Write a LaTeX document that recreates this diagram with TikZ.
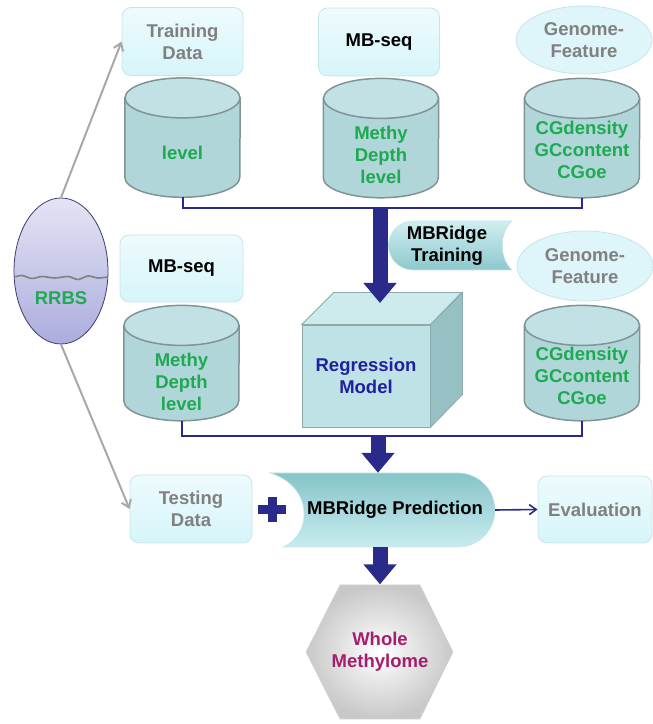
\documentclass[tikz,border=0pt]{standalone}
\usepackage{fontspec}
\setmainfont{Liberation Sans}
\usetikzlibrary{arrows.meta,positioning,shapes.geometric,calc}

\definecolor{boxtop}{RGB}{238,251,253}
\definecolor{boxbot}{RGB}{214,245,249}
\definecolor{boxline}{RGB}{196,230,235}
\definecolor{ellfill}{RGB}{222,245,249}
\definecolor{labelgray}{RGB}{128,128,128}
\definecolor{cylbody}{RGB}{176,214,218}
\definecolor{cylend}{RGB}{194,225,228}
\definecolor{cylline}{RGB}{128,148,150}
\definecolor{dbgreen}{RGB}{30,170,80}
\definecolor{navy}{RGB}{42,42,138}
\definecolor{feedgray}{RGB}{168,168,168}
\definecolor{cubefront}{RGB}{190,226,230}
\definecolor{cubetop}{RGB}{205,234,236}
\definecolor{cubeside}{RGB}{150,192,196}
\definecolor{cubeline}{RGB}{140,170,172}
\definecolor{modelblue}{RGB}{32,32,160}
\definecolor{tealtop}{RGB}{208,238,240}
\definecolor{tealbot}{RGB}{140,200,205}
\definecolor{predtop}{RGB}{135,196,200}
\definecolor{predbot}{RGB}{200,236,240}
\definecolor{rrbstop}{RGB}{228,228,245}
\definecolor{rrbsbot}{RGB}{172,172,222}
\definecolor{rrbsline}{RGB}{60,60,110}
\definecolor{hexgray}{RGB}{200,200,200}
\definecolor{wholepink}{RGB}{165,30,110}

% cylinder drawn round an empty node
\newcommand{\dbdraw}[1]{%
  \filldraw[draw=cylline,line width=1.5pt,fill=cylbody]
    ([yshift=-20pt]#1.north west) -- ([yshift=20pt]#1.south west)
    arc[start angle=180,end angle=360,x radius=57.5pt,y radius=20pt]
    -- ([yshift=-20pt]#1.north east) -- cycle;
  \filldraw[draw=cylline,line width=1.5pt,fill=cylend]
    ([yshift=-20pt]#1.north) ellipse[x radius=57.5pt,y radius=20pt];
}

\begin{document}
\begin{tikzpicture}[
  x=1pt, y=1pt,
  font=\fontsize{18.5}{22}\selectfont\bfseries,
  infobox/.style={draw=boxline,line width=0.8pt,rounded corners=9pt,
                  top color=boxtop,bottom color=boxbot,align=center,
                  minimum width=121pt,minimum height=68pt,text=labelgray},
  feature/.style={ellipse,draw=boxline,line width=0.8pt,fill=ellfill,
                  align=center,inner sep=0pt,
                  minimum width=136pt,minimum height=68pt,text=labelgray},
  db/.style={minimum width=115pt,minimum height=119pt,inner sep=0pt},
  dbtext/.style={text=dbgreen,align=center},
  bus/.style={draw=navy,line width=2pt},
  bigarrow/.style={draw=navy,line width=15pt,
                   -{Triangle[width=32pt,length=20pt]}},
  feed/.style={draw=feedgray,line width=2pt,
               -{Straight Barb[length=7pt,width=10pt]}}
]
\useasboundingbox (0,0) rectangle (653,724);

% training inputs
\node[infobox] (traindata) at (182.5,682.5) {Training\\Data};
\node[infobox,text=black] (mbseqA) at (379,682) {MB-seq};
\node[feature] (genomeA) at (584,684) {Genome-\\Feature};
\node[db,below=2pt of traindata] (cylA) {};
\node[db,below=2pt of mbseqA,xshift=2pt] (cylB) {};
\node[db,below=4pt of genomeA,xshift=-2pt] (cylC) {};
\dbdraw{cylA}
\dbdraw{cylB}
\dbdraw{cylC}
\node[dbtext] (levelA) at ([yshift=-15pt]cylA.center) {level};
\node[dbtext] (levelB) at ([yshift=-17pt]cylB.center) {Methy\\Depth\\level};
\node[dbtext] (levelC) at ([yshift=-12pt]cylC.center) {CGdensity\\GCcontent\\CGoe};

\coordinate (busA) at (380,516);
\draw[bus] (cylA.south) |- (busA) -| (cylC.south);

% testing inputs
\node[infobox,text=black,minimum width=123pt,minimum height=67pt] (mbseqB) at (181.5,455.5) {MB-seq};
\node[feature,minimum height=70pt] (genomeB) at (585,458) {Genome-\\Feature};
\node[db,minimum height=115pt,below=3pt of mbseqB] (cylD) {};
\node[db,minimum height=115pt,below=4pt of genomeB,xshift=-3pt] (cylE) {};
\dbdraw{cylD}
\dbdraw{cylE}
\node[dbtext] (levelD) at ([yshift=-19pt]cylD.center) {Methy\\Depth\\level};
\node[dbtext] (levelE) at ([yshift=-13pt]cylE.center) {CGdensity\\GCcontent\\CGoe};

% model
\node[draw=cubeline,line width=0.8pt,fill=cubefront,text=modelblue,align=center,
      minimum width=128pt,minimum height=102pt] (model) at (366,348) {Regression\\Model};
\filldraw[draw=cubeline,line width=0.8pt,fill=cubetop]
  (model.north west) -- ++(32,32) -- ++(128,0) -- (model.north east) -- cycle;
\filldraw[draw=cubeline,line width=0.8pt,fill=cubeside]
  (model.north east) -- ++(32,32) -- ++(0,-102) -- (model.south east) -- cycle;
\draw[bigarrow] (busA) -- (380,421);

\shade[top color=tealtop,bottom color=tealbot,draw=boxline,line width=0.6pt]
  (512,503) -- (413,503) arc[start angle=90,end angle=270,radius=24.5]
  -- (512,454) .. controls (499,466) and (499,491) .. (512,503) -- cycle;
\node[align=center] (trainstep) at (447,478.5) {MBRidge\\Training};

\coordinate (busB) at (378,288);
\draw[bus] (cylD.south) |- (busB) -| (cylE.south);

% rrbs source
\node[ellipse,draw=rrbsline,line width=0.8pt,top color=rrbstop,bottom color=rrbsbot,
      minimum width=94pt,minimum height=146pt] (rrbs) at (61,453) {};
\draw[gray,line width=1.6pt] plot[smooth] coordinates
  {(14.5,447) (22,448.5) (32,445.5) (42,447.5) (55,446) (68,447.5) (78,444.5) (88,448) (98,446) (107.5,447)};
\node[text=dbgreen] (rrbslabel) at (61,426) {RRBS};
\draw[feed] (rrbs.north) -- (traindata.west);

% prediction
\node[infobox,minimum width=122pt] (testdata) at (191,215) {Testing\\Data};
\draw[feed] (rrbs.south) -- (testdata.west);
\fill[navy] (258,210) rectangle (286,219);
\fill[navy] (267.5,202) rectangle (276.5,227);

\shade[top color=predtop,bottom color=predbot,draw=boxline,line width=0.6pt]
  (270,251) -- (458,251) arc[start angle=90,end angle=-90,radius=37]
  -- (283,177) .. controls (313,190) and (313,238) .. (270,251) -- cycle;
\node[minimum width=200pt,minimum height=74pt] (predict) at (395,214) {MBRidge Prediction};
\draw[bigarrow] (busB) -- (busB |- predict.north);

\node[infobox,minimum width=114pt,minimum height=67pt] (evaluation) at (595,214.5) {Evaluation};
\draw[navy,line width=1.6pt,-{Straight Barb[length=7pt,width=10pt]}] (predict.east) -- (evaluation.west);

% output
\coordinate (whole) at (380,72);
\shade[inner color=white,outer color=hexgray,draw=hexgray!80!white,line width=0.6pt]
  ($(whole)+(-40,67)$) -- ($(whole)+(40,67)$) -- ($(whole)+(73,0)$)
  -- ($(whole)+(40,-67)$) -- ($(whole)+(-40,-67)$) -- ($(whole)+(-74,0)$) -- cycle;
\node[align=center,text=wholepink,minimum height=135pt] (wholelabel) at (whole) {Whole\\Methylome};
\draw[bigarrow] (wholelabel |- predict.south) -- (wholelabel.north);
\end{tikzpicture}
\end{document}
